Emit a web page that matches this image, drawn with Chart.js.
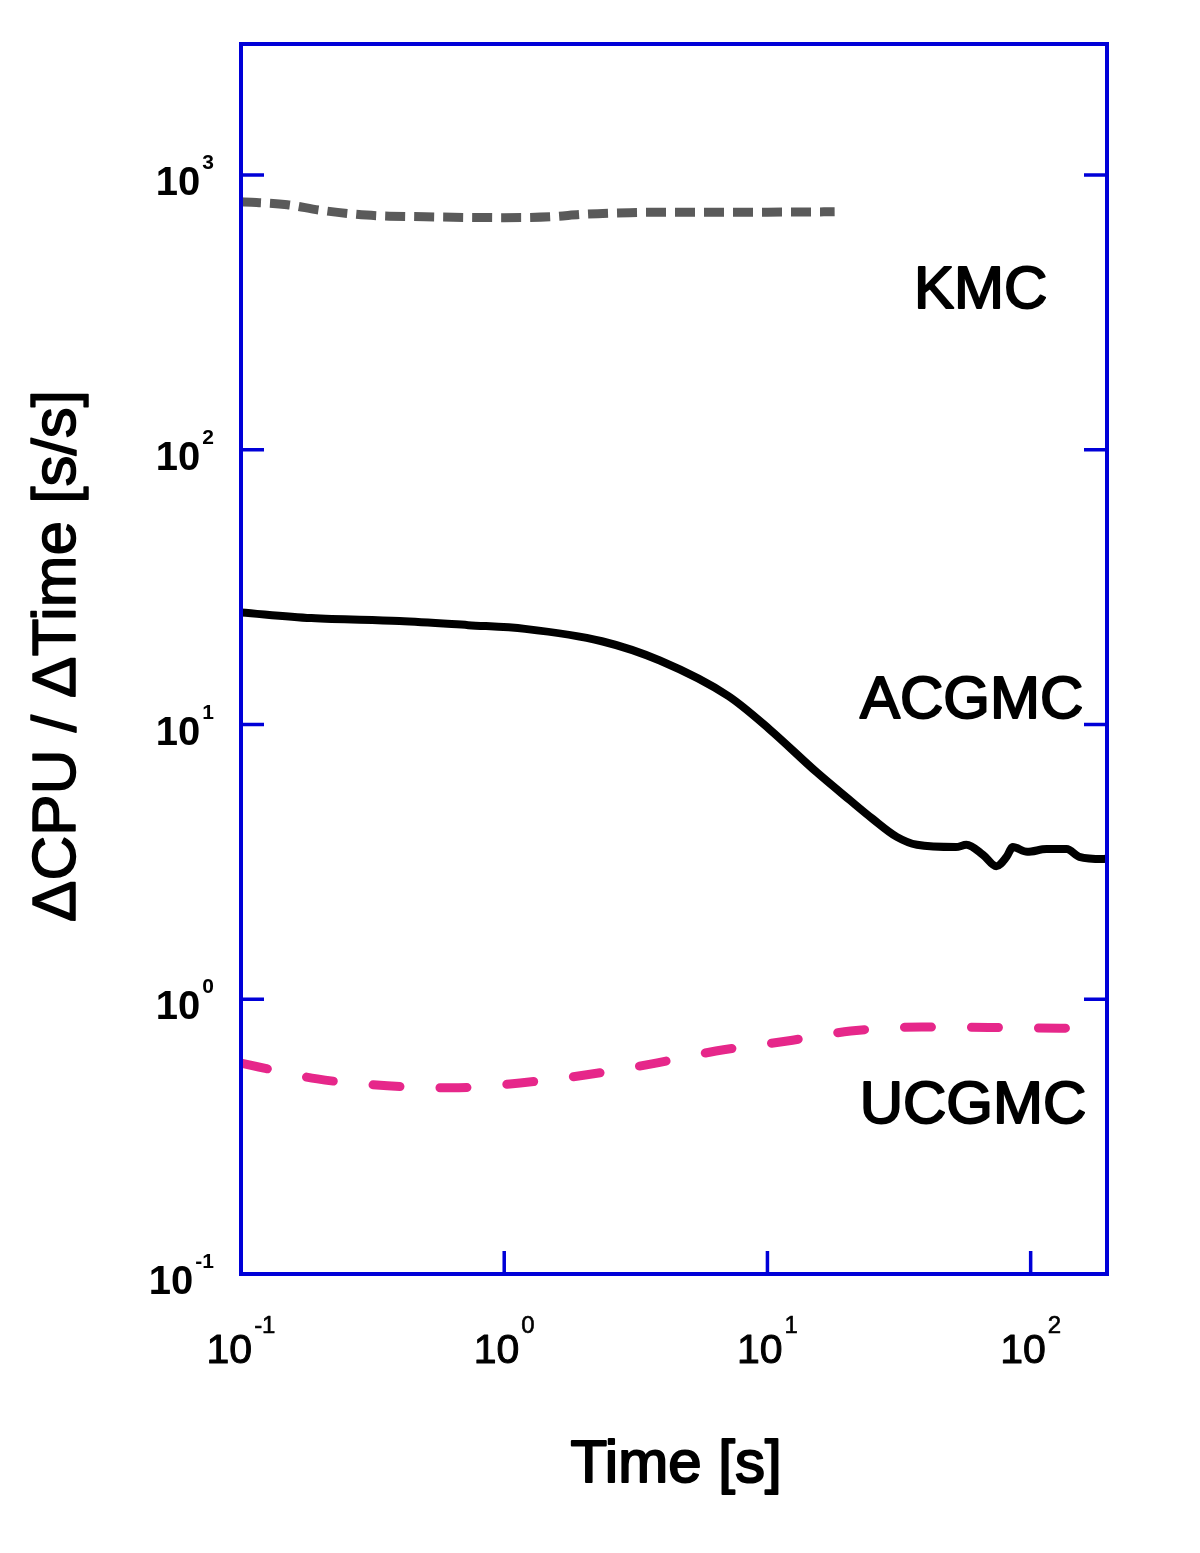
<!DOCTYPE html>
<html>
<head>
<meta charset="utf-8">
<script src="https://cdn.jsdelivr.net/npm/chart.js@4.4.1/dist/chart.umd.min.js"></script>
<style>
  html, body { margin: 0; padding: 0; background: #ffffff; }
  canvas { display: block; }
</style>
</head>
<body>
<canvas id="c" width="1200" height="1553"></canvas>
<script>
// ---- Data ----
const kmcTime   = [0.1, 0.15, 0.2, 0.3, 0.5, 1.0, 1.5, 2.0, 3.0, 5.0, 10, 18];
const kmcRatio  = [800, 780, 745, 715, 705, 700, 705, 720, 730, 733, 733, 735];

const acgTime   = [0.1, 0.185, 0.4, 0.73, 1.2, 2.35, 3.9, 7.1, 10.2, 15.4, 20.6, 25, 31, 37, 52, 57, 66, 74, 81, 85.5, 97, 115, 137, 153, 188, 195];
const acgRatio  = [25.6, 24.4, 23.8, 23.0, 22.3, 20.1, 17.1, 12.7, 9.6, 6.7, 5.3, 4.55, 3.9, 3.65, 3.58, 3.65, 3.35, 3.05, 3.3, 3.58, 3.44, 3.52, 3.52, 3.3, 3.24, 3.25];

const ucgTime   = [0.1, 0.195, 0.36, 0.63, 1.15, 2.06, 3.64, 6.37, 11.9, 20.7, 38.6, 69.3, 129, 150];
const ucgRatio  = [0.586, 0.513, 0.484, 0.476, 0.496, 0.531, 0.582, 0.648, 0.705, 0.766, 0.792, 0.79, 0.785, 0.785];

const xTickExponents = ['-1', '0', '1', '2'];
const yTickExponents = ['-1', '0', '1', '2', '3'];

const seriesNames = ['KMC', 'ACGMC', 'UCGMC'];
// label anchors in data coordinates (time, ratio at text baseline)
const labelTime  = [64.6, 59.7, 60.4];
const labelRatio = [328, 10.6, 0.354];

const xTitle = 'Time [s]';
const yTitle = '\u0394CPU / \u0394Time [s/s]';

// ---- Helpers ----
const pts = (xs, ys) => xs.map((x, i) => ({ x: x, y: ys[i] }));
const FRAME = '#0000d8';
const FONT = '"Liberation Sans", Arial, Helvetica, sans-serif';

function heavyText(ctx, txt, x, y, w) {
  ctx.fillText(txt, x, y);
  ctx.lineWidth = w;
  ctx.strokeStyle = ctx.fillStyle;
  ctx.lineJoin = 'round';
  ctx.strokeText(txt, x, y);
}

const decorPlugin = {
  id: 'decor',
  beforeDraw(chart) {
    const ctx = chart.ctx;
    ctx.save();
    ctx.fillStyle = '#ffffff';
    ctx.fillRect(0, 0, chart.width, chart.height);
    ctx.restore();
  },
  afterDraw(chart) {
    const ctx = chart.ctx;
    const a = chart.chartArea;
    const xs = chart.scales.x, ys = chart.scales.y;
    ctx.save();

    // frame
    ctx.strokeStyle = FRAME;
    ctx.lineWidth = 4;
    ctx.strokeRect(a.left, a.top, a.right - a.left, a.bottom - a.top);

    // inward tick marks
    ctx.lineWidth = 3.5;
    ctx.beginPath();
    yTickExponents.forEach(e => {
      const v = Math.pow(10, Number(e));
      const py = ys.getPixelForValue(v);
      if (py > a.top + 2 && py < a.bottom - 2) {
        ctx.moveTo(a.left, py); ctx.lineTo(a.left + 23, py);
        ctx.moveTo(a.right, py); ctx.lineTo(a.right - 23, py);
      }
    });
    xTickExponents.forEach(e => {
      const v = Math.pow(10, Number(e));
      const px = xs.getPixelForValue(v);
      if (px > a.left + 2 && px < a.right - 2) {
        ctx.moveTo(px, a.bottom); ctx.lineTo(px, a.bottom - 23);
      }
    });
    ctx.stroke();

    ctx.fillStyle = '#000000';
    ctx.textBaseline = 'alphabetic';

    // y tick labels: 10^e
    yTickExponents.forEach(e => {
      const v = Math.pow(10, Number(e));
      const py = ys.getPixelForValue(v);
      ctx.font = 'bold 21px ' + FONT;
      const ew = ctx.measureText(e).width;
      const right = 214;
      ctx.textAlign = 'left';
      ctx.fillText(e, right - ew, py - 6);
      ctx.font = 'bold 40px ' + FONT;
      ctx.textAlign = 'right';
      ctx.fillText('10', right - ew - 2, py + 20);
    });

    // x tick labels: 10^e
    xTickExponents.forEach(e => {
      const v = Math.pow(10, Number(e));
      const px = xs.getPixelForValue(v);
      ctx.font = '41px ' + FONT;
      const bw = ctx.measureText('10').width;
      ctx.font = '24px ' + FONT;
      const ew = ctx.measureText(e).width;
      const start = px - (bw + 2 + ew) / 2;
      ctx.textAlign = 'left';
      ctx.font = '41px ' + FONT;
      heavyText(ctx, '10', start, 1363, 1);
      ctx.font = '24px ' + FONT;
      heavyText(ctx, e, start + bw + 2, 1333, 0.6);
    });

    // series labels
    ctx.font = '60px ' + FONT;
    ctx.textAlign = 'center';
    seriesNames.forEach((n, i) => {
      heavyText(ctx, n, xs.getPixelForValue(labelTime[i]), ys.getPixelForValue(labelRatio[i]), 2);
    });

    // axis titles
    ctx.font = '60px ' + FONT;
    ctx.textAlign = 'center';
    heavyText(ctx, xTitle, 676, 1482, 2);

    ctx.translate(75, 656);
    ctx.rotate(-Math.PI / 2);
    ctx.font = '62px ' + FONT;
    ctx.textAlign = 'center';
    heavyText(ctx, yTitle, 0, 0, 1.5);

    ctx.restore();
  }
};

new Chart(document.getElementById('c'), {
  type: 'line',
  data: {
    datasets: [
      {
        label: seriesNames[0],
        data: pts(kmcTime, kmcRatio),
        borderColor: '#5a5a5a',
        borderWidth: 9,
        borderDash: [20, 9],
        borderCapStyle: 'butt',
        pointRadius: 0,
        cubicInterpolationMode: 'monotone',
        fill: false
      },
      {
        label: seriesNames[1],
        data: pts(acgTime, acgRatio),
        borderColor: '#000000',
        borderWidth: 8,
        borderCapStyle: 'round',
        borderJoinStyle: 'round',
        pointRadius: 0,
        cubicInterpolationMode: 'monotone',
        fill: false
      },
      {
        label: seriesNames[2],
        data: pts(ucgTime, ucgRatio),
        borderColor: '#e6278a',
        borderWidth: 9,
        borderDash: [27, 40],
        borderCapStyle: 'round',
        pointRadius: 0,
        cubicInterpolationMode: 'monotone',
        fill: false
      }
    ]
  },
  options: {
    responsive: false,
    animation: false,
    devicePixelRatio: 1,
    layout: { padding: { top: 44, right: 93, left: 0, bottom: 0 } },
    plugins: { legend: { display: false }, tooltip: { enabled: false } },
    scales: {
      x: {
        type: 'logarithmic',
        min: 0.1,
        max: 195,
        ticks: { display: false },
        grid: { display: false },
        border: { display: false },
        afterFit: s => { s.height = 279; }
      },
      y: {
        type: 'logarithmic',
        min: 0.1,
        max: 3000,
        ticks: { display: false },
        grid: { display: false },
        border: { display: false },
        afterFit: s => { s.width = 241; }
      }
    }
  },
  plugins: [decorPlugin]
});
</script>
</body>
</html>
